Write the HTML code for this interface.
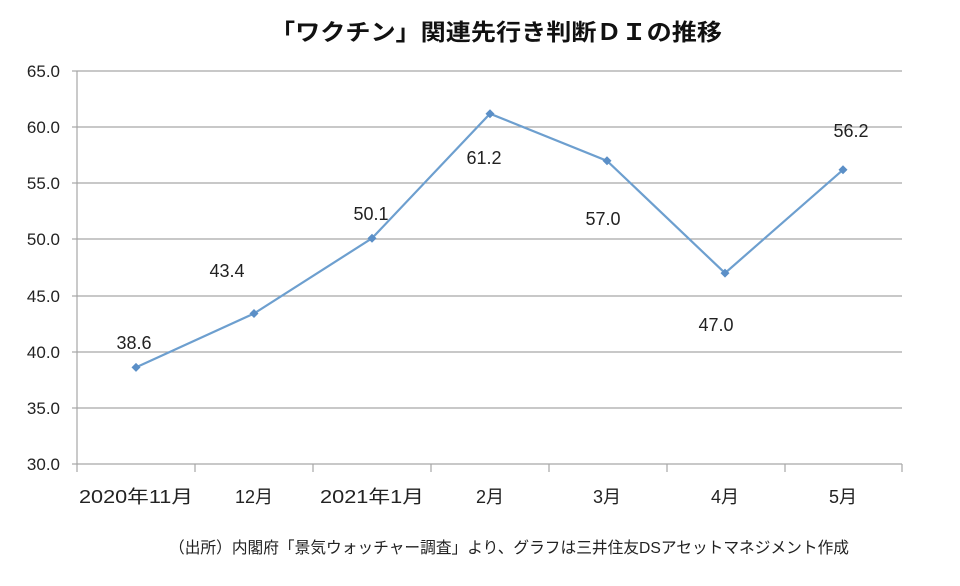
<!DOCTYPE html>
<html><head><meta charset="utf-8"><style>
html,body{margin:0;padding:0;background:#fff;}
svg{display:block;font-family:"Liberation Sans","Noto Sans CJK JP",sans-serif;}
</style></head><body>
<svg width="960" height="586" viewBox="0 0 960 586">
<text x="496" y="40" text-anchor="middle" font-size="23" font-weight="bold" textLength="452" lengthAdjust="spacingAndGlyphs" fill="#111">「ワクチン」関連先行き判断ＤＩの推移</text>
<g stroke="#a6a6a6" stroke-width="1.2">
<line x1="77" y1="71" x2="902" y2="71"/><line x1="77" y1="127" x2="902" y2="127"/>
<line x1="77" y1="183" x2="902" y2="183"/><line x1="77" y1="239" x2="902" y2="239"/>
<line x1="77" y1="296" x2="902" y2="296"/><line x1="77" y1="352" x2="902" y2="352"/>
<line x1="77" y1="408" x2="902" y2="408"/>
<line x1="77" y1="71" x2="77" y2="472"/>
<line x1="72" y1="71" x2="77" y2="71"/><line x1="72" y1="127" x2="77" y2="127"/><line x1="72" y1="183" x2="77" y2="183"/><line x1="72" y1="239" x2="77" y2="239"/><line x1="72" y1="296" x2="77" y2="296"/><line x1="72" y1="352" x2="77" y2="352"/><line x1="72" y1="408" x2="77" y2="408"/><line x1="72" y1="464" x2="77" y2="464"/>
<line x1="77" y1="464" x2="902" y2="464"/>
<line x1="195" y1="464" x2="195" y2="472"/><line x1="313" y1="464" x2="313" y2="472"/><line x1="431" y1="464" x2="431" y2="472"/><line x1="549" y1="464" x2="549" y2="472"/><line x1="667" y1="464" x2="667" y2="472"/><line x1="785" y1="464" x2="785" y2="472"/><line x1="902" y1="464" x2="902" y2="472"/>
</g>
<g font-size="17" fill="#222" text-anchor="end">
<text x="60" y="77">65.0</text><text x="60" y="133">60.0</text><text x="60" y="189">55.0</text><text x="60" y="245">50.0</text><text x="60" y="302">45.0</text><text x="60" y="358">40.0</text><text x="60" y="414">35.0</text><text x="60" y="470">30.0</text>
</g>
<g font-size="18" fill="#222" text-anchor="middle">
<text x="136" y="503" textLength="114" lengthAdjust="spacingAndGlyphs">2020年11月</text>
<text x="254" y="503">12月</text>
<text x="372" y="503" textLength="104" lengthAdjust="spacingAndGlyphs">2021年1月</text>
<text x="490" y="503">2月</text><text x="607" y="503">3月</text><text x="725" y="503">4月</text><text x="843" y="503">5月</text>
</g>
<polyline fill="none" stroke="#6d9fcf" stroke-width="2.2" points="136,367.4 254,313.5 372,238.3 490,113.7 607,160.8 725,273.1 843,169.8"/>
<g fill="#5b8fc7">
<path d="M136,362.9l4.5,4.5l-4.5,4.5l-4.5,-4.5z"/><path d="M254,309l4.5,4.5l-4.5,4.5l-4.5,-4.5z"/>
<path d="M372,233.8l4.5,4.5l-4.5,4.5l-4.5,-4.5z"/><path d="M490,109.2l4.5,4.5l-4.5,4.5l-4.5,-4.5z"/>
<path d="M607,156.3l4.5,4.5l-4.5,4.5l-4.5,-4.5z"/><path d="M725,268.6l4.5,4.5l-4.5,4.5l-4.5,-4.5z"/>
<path d="M843,165.3l4.5,4.5l-4.5,4.5l-4.5,-4.5z"/>
</g>
<g font-size="18" fill="#222" text-anchor="middle">
<text x="134" y="349">38.6</text><text x="227" y="277">43.4</text><text x="371" y="220">50.1</text>
<text x="484" y="164">61.2</text><text x="603" y="225">57.0</text><text x="716" y="331">47.0</text><text x="851" y="137">56.2</text>
</g>
<text x="509" y="553" text-anchor="middle" font-size="16" fill="#222" textLength="680" lengthAdjust="spacingAndGlyphs">（出所）内閣府「景気ウォッチャー調査」より、グラフは三井住友DSアセットマネジメント作成</text>
</svg>
</body></html>
